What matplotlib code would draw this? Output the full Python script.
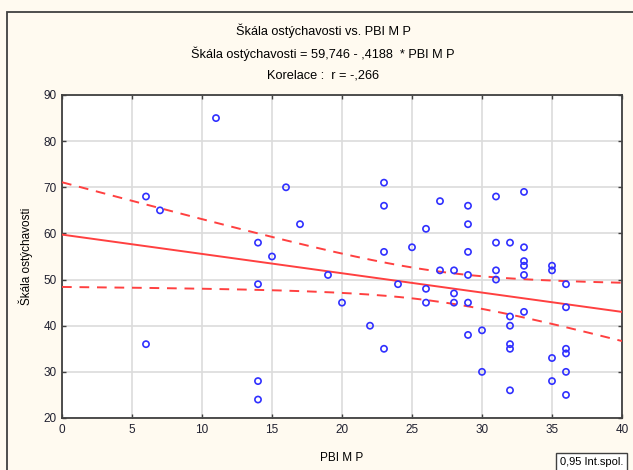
import numpy as np
import matplotlib
matplotlib.use('Agg')
import matplotlib.pyplot as plt
from matplotlib.patches import Rectangle

plt.rcParams['font.family'] = ['Liberation Sans', 'DejaVu Sans']

# PBI M P scores (x) and Skala ostychavosti (y)
pbi = [6, 7, 6, 11, 14, 14, 14, 14, 15, 16, 17, 19, 20, 22, 23, 23, 23, 23,
       24, 25, 26, 26, 26, 27, 27, 28, 28, 28, 29, 29, 29, 29, 29, 29, 30, 30,
       31, 31, 31, 31, 32, 32, 32, 32, 32, 32, 33, 33, 33, 33, 33, 33,
       35, 35, 35, 35, 36, 36, 36, 36, 36, 36]
skala = [68, 65, 36, 85, 58, 49, 28, 24, 55, 70, 62, 51, 45, 40, 71, 66, 56, 35,
         49, 57, 61, 48, 45, 67, 52, 52, 47, 45, 66, 62, 56, 51, 45, 38, 39, 30,
         68, 58, 52, 50, 58, 42, 40, 36, 35, 26, 69, 57, 54, 53, 51, 43,
         53, 52, 33, 28, 49, 44, 35, 34, 30, 25]

# regression printed on the chart
fit_intercept = 59.746
fit_slope = -0.4188

x_ticks = [0, 5, 10, 15, 20, 25, 30, 35, 40]
y_ticks = [20, 30, 40, 50, 60, 70, 80, 90]

title_lines = ["Škála ostýchavosti vs. PBI M P",
               "Škála ostýchavosti = 59,746 - ,4188  * PBI M P",
               "Korelace :  r = -,266"]


def main():
    x = np.array(pbi, dtype=float)
    y = np.array(skala, dtype=float)

    # 95% confidence band for the mean around the printed line
    n = len(x)
    resid = y - (fit_intercept + fit_slope * x)
    s = np.sqrt(np.sum(resid ** 2) / (n - 2))
    sxx = np.sum((x - x.mean()) ** 2)
    t = 2.0  # t(0.975, df=60)
    xs = np.linspace(0, 40, 200)
    ys = fit_intercept + fit_slope * xs
    half = t * s * np.sqrt(1.0 / n + (xs - x.mean()) ** 2 / sxx)

    fig = plt.figure(figsize=(6.33, 4.7), dpi=100)
    fig.patch.set_facecolor('#fffaf0')
    fig.patches.append(Rectangle((7 / 633, -0.1), 1.2, 0.1 + 1 - 12 / 470,
                                 transform=fig.transFigure, fill=False,
                                 edgecolor='#404040', linewidth=1.3))

    ax = fig.add_axes([62 / 633, 1 - 418 / 470, 560 / 633, 323 / 470])
    ax.set_facecolor('white')

    red = '#ff4040'
    ax.plot(xs, ys, color=red, linewidth=1.4, zorder=3)
    ax.plot(xs, ys + half, color=red, linewidth=1.4, linestyle=(0, (5, 4)), zorder=3)
    ax.plot(xs, ys - half, color=red, linewidth=1.4, linestyle=(0, (5, 4)), zorder=3)
    ax.scatter(x, y, s=20, facecolors='none', edgecolors='#3030ff', linewidths=1.2, zorder=4)

    ax.set_xlim(0, 40)
    ax.set_ylim(20, 90)
    ax.set_xticks(x_ticks)
    ax.set_yticks(y_ticks)
    ax.grid(True, color='#dcdcdc', linewidth=1.2)
    ax.set_axisbelow(True)
    ax.tick_params(direction='in', length=3, width=1, color='#404040',
                   top=True, right=True, labelsize=8.5, labelcolor='#202030', pad=4)
    for sp in ax.spines.values():
        sp.set_color('#404040')
        sp.set_linewidth(1.3)

    ax.set_xlabel("PBI M P", fontsize=8.5, labelpad=12)
    ax.set_ylabel("Škála ostýchavosti", fontsize=8.5, labelpad=7)

    for i, line in enumerate(title_lines):
        fig.text(323 / 633, 1 - (31 + i * 22.5) / 470, line, ha='center', va='center', fontsize=9.2)

    fig.text(560 / 633, 1 - 462 / 470, "0,95 Int.spol.", ha='left', va='center', fontsize=8,
             bbox=dict(boxstyle='square,pad=0.35', facecolor='white', edgecolor='#404040', linewidth=1))

    fig.savefig('out.png', dpi=100, facecolor=fig.get_facecolor())


if __name__ == '__main__':
    main()
